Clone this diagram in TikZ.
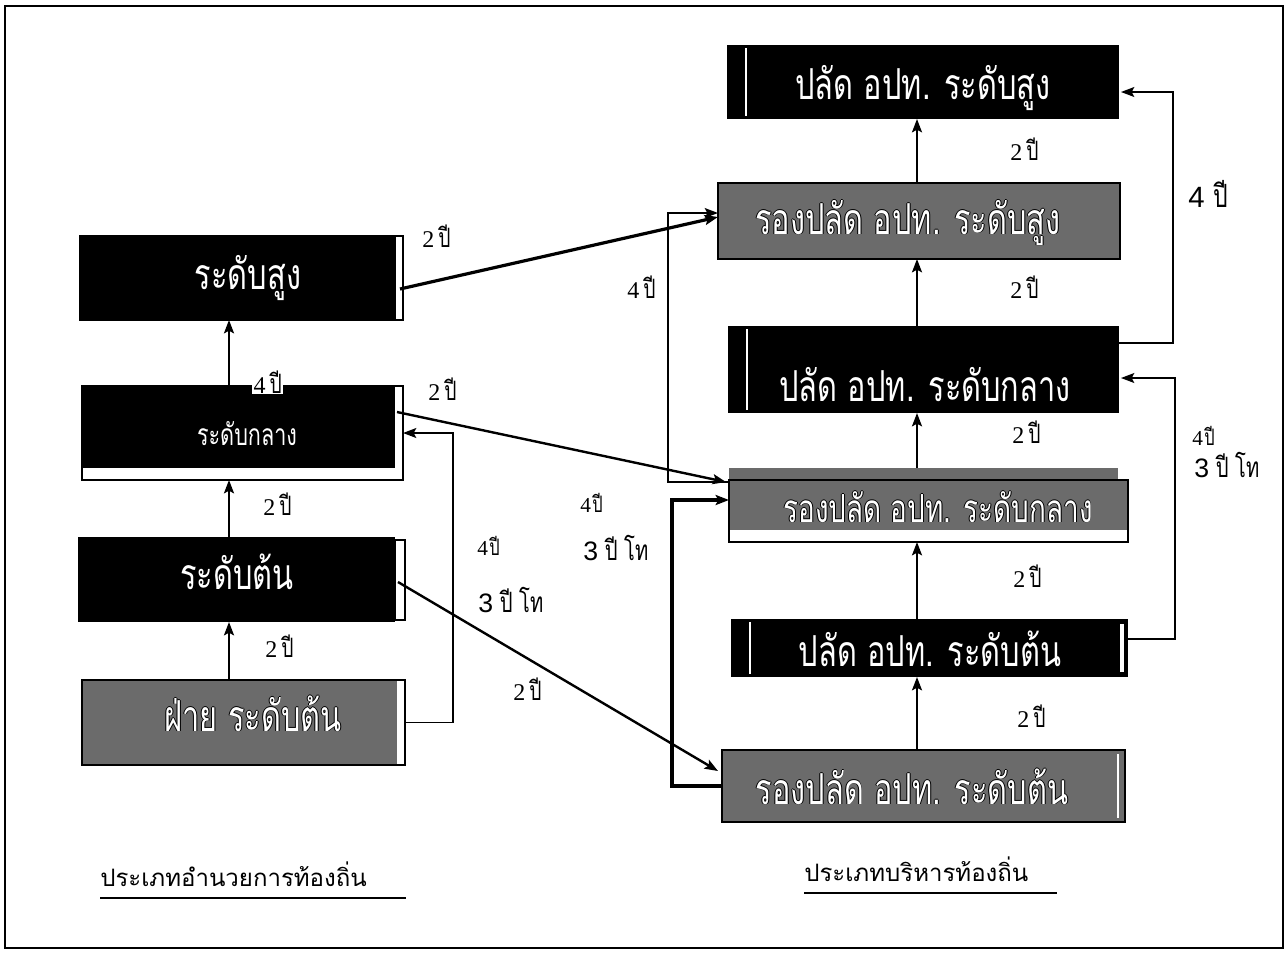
\documentclass[tikz,border=0pt]{standalone}
\usepackage{fontspec}
\usetikzlibrary{arrows.meta,calc}
\newfontfamily\thaiC[Script=Thai,FakeStretch=0.72]{Loma}
\newfontfamily\thaiS[Script=Thai]{Loma}
\newfontfamily\serifd{Liberation Serif}
\newfontfamily\sansd{Liberation Sans}
\newlength\pxu \setlength\pxu{0.75pt}
\newcommand\bigT{\thaiC\fontsize{32}{32}\selectfont}
\newcommand\bigTb{\thaiC\fontsize{29}{29}\selectfont}
\newcommand\midT{\thaiC\fontsize{22.5}{22.5}\selectfont}
\newcommand\yrS[1]{{\serifd\fontsize{18}{18}\selectfont #1}\hspace{3pt}{\thaiC\fontsize{20}{20}\selectfont ปี}}
\newcommand\yrM[1]{{\serifd\fontsize{16}{16}\selectfont #1}\hspace{1pt}{\thaiC\fontsize{17}{17}\selectfont ปี}}
\newcommand\yrB[1]{{\sansd\fontsize{22}{22}\selectfont #1}\hspace{7pt}{\thaiC\fontsize{24}{24}\selectfont ปี}}
\newcommand\yrT{{\sansd\fontsize{20}{20}\selectfont 3}\hspace{5pt}{\thaiC\fontsize{21}{21}\selectfont ปี\hspace{5pt}โท}}
\newcommand\otext[1]{\leavevmode
  \rlap{\raisebox{0.7pt}{\color{black}#1}}%
  \rlap{\raisebox{-0.7pt}{\color{black}#1}}%
  \rlap{\hspace{0.7pt}\color{black}#1}%
  \rlap{\hspace{-0.7pt}\color{black}#1}%
  {\color{white}#1}}
\begin{document}
\begin{tikzpicture}[x=0.75pt,y=-0.75pt,
  frame/.style={line width=1.5pt},
  blk/.style={fill=black},
  gry/.style={fill=black!58},
  edgeline/.style={draw=black,line width=0.8pt},
  boxn/.style={rectangle,inner sep=0pt,outer sep=0pt},
  wl/.style={draw=white,line width=0.9pt},
  tx/.style={text=white,inner sep=0pt,anchor=base},
  lab/.style={inner sep=0pt,anchor=base west},
  tip/.style={-{Stealth[length=10pt,width=7.5pt,inset=2pt]}},
  vup/.style={tip,line width=1.6pt},
  fb/.style={tip,line width=1pt},
  fbthick/.style={tip,line width=2.6pt},
  diag/.style={tip,line width=1.8pt},
  diagthick/.style={tip,line width=2.4pt},
  uline/.style={line width=1.6pt}]
\useasboundingbox (0,0) rectangle (1286,958);
\fill[white] (0,0) rectangle (1286,958);
\draw[frame] (5,6) rectangle (1283,948);

% ---------- left column ----------
\fill[blk] (80,236) rectangle (396,320);
\draw[edgeline] (80,236) rectangle (403,320);
\node[boxn,minimum width=323\pxu,minimum height=84\pxu] (hs) at (241.5,278) {};
\node[tx,font=\bigT] (ths) at (248,289) {ระดับสูง};

\fill[blk] (82,386) rectangle (395,468);
\draw[edgeline] (82,386) rectangle (403,480);
\node[boxn,minimum width=321\pxu,minimum height=94\pxu] (hm) at (242.5,433) {};
\node[tx,font=\midT] (thm) at (247,445) {ระดับกลาง};

\fill[blk] (78,537) rectangle (395,622);
\draw[edgeline] (395,540) rectangle (405,620);
\node[boxn,minimum width=327\pxu,minimum height=85\pxu] (hl) at (241.5,579.5) {};
\node[tx,font=\bigT] (thl) at (237,589) {ระดับต้น};

\fill[gry] (82,680) rectangle (397,765);
\draw[edgeline] (82,680) rectangle (405,765);
\node[boxn,minimum width=323\pxu,minimum height=85\pxu] (hf) at (243.5,722.5) {};
\node[tx,font=\bigT] (thf) at (253,731) {\otext{ฝ่าย ระดับต้น}};

% ---------- right column ----------
\fill[blk] (727,45) rectangle (1119,119);
\draw[wl] (746,48) -- (746,116);
\node[boxn,minimum width=392\pxu,minimum height=74\pxu] (ps) at (923,82) {};
\node[tx,font=\bigT] (tps) at (923,99) {ปลัด อปท. ระดับสูง};

\fill[gry] (718,183) rectangle (1120,259);
\draw[edgeline] (718,183) rectangle (1120,259);
\node[boxn,minimum width=402\pxu,minimum height=76\pxu] (rs) at (919,221) {};
\node[tx,font=\bigT] (trs) at (908,234) {\otext{รองปลัด อปท. ระดับสูง}};

\fill[blk] (728,326) rectangle (1119,413);
\draw[wl] (747,329) -- (747,410);
\node[boxn,minimum width=391\pxu,minimum height=87\pxu] (pm) at (923.5,369.5) {};
\node[tx,font=\bigT] (tpm) at (925,401) {ปลัด อปท. ระดับกลาง};

\fill[gry] (729,468) rectangle (1118,480);
\fill[gry] (729,480) rectangle (1128,530);
\draw[edgeline] (729,480) rectangle (1128,542);
\node[boxn,minimum width=399\pxu,minimum height=74\pxu] (rm) at (928.5,505) {};
\node[tx,font=\bigTb] (trm) at (938,522) {\otext{รองปลัด อปท. ระดับกลาง}};

\fill[blk] (731,619) rectangle (1128,677);
\draw[wl] (750,622) -- (750,674);
\draw[edgeline,fill=white] (1119,623) rectangle (1125,673);
\node[boxn,minimum width=397\pxu,minimum height=58\pxu] (pl) at (929.5,648) {};
\node[tx,font=\bigT] (tpl) at (930,666) {ปลัด อปท. ระดับต้น};

\fill[gry] (722,750) rectangle (1125,822);
\draw[edgeline] (722,750) rectangle (1125,822);
\draw[wl] (1118,754) -- (1118,818);
\node[boxn,minimum width=403\pxu,minimum height=72\pxu] (rl) at (923.5,786) {};
\node[tx,font=\bigT] (trl) at (912,804) {\otext{รองปลัด อปท. ระดับต้น}};

% ---------- connectors ----------
\coordinate (cR) at (917,0);
\coordinate (cL) at (229,0);
\draw[vup] (rs.north -| cR) -- (ps.south -| cR);
\draw[vup] (pm.north -| cR) -- (rs.south -| cR);
\draw[vup] (rm.north -| cR) -- (pm.south -| cR);
\draw[vup] (pl.north -| cR) -- (rm.south -| cR);
\draw[vup] (rl.north -| cR) -- (pl.south -| cR);
\draw[vup] (hm.north -| cL) -- (hs.south -| cL);
\draw[vup] (hl.north -| cL) -- (hm.south -| cL);
\draw[vup] (hf.north -| cL) -- (hl.south -| cL);

\draw[fb] ($(pm.east)+(0,-26.5)$) -- ++(54,0) |- ($(ps.east)+(2,10)$);
\draw[fb] ($(pl.east)+(0,-9)$) -- ++(47,0) |- ($(pm.east)+(2,8.5)$);
\draw[fb] (hf.east) -- ++(48,0) |- (hm.east);
\draw[fb] ($(rm.west)+(0,-23)$) -- ++(-61,0) |- ($(rs.west)+(0,-8)$);
\draw[fbthick] (rl.west) -- ++(-50,0) |- ($(rm.west)+(0,-5)$);

\draw[diagthick] ($(hs.east)+(-3,11)$) -- ($(rs.west)+(0,-4)$);
\draw[diag] ($(hm.east)+(-6,-21)$) -- ($(rm.west)+(-3,-23)$);
\draw[diag] ($(hl.east)+(-7,2.5)$) -- ($(rl.west)+(-4,-15)$);

% ---------- labels ----------
\node[lab] (l1) at (422,247) {\yrS{2}};
\node[lab,fill=white,inner sep=1pt] (l2) at (252,393) {\yrS{4}};
\node[lab] (l3) at (428,400) {\yrS{2}};
\node[lab] (l4) at (263,515) {\yrS{2}};
\node[lab] (l5) at (265,657) {\yrS{2}};
\node[lab] (l6) at (477,555) {\yrM{4}};
\node[lab] (l7) at (478,612) {\yrT};
\node[lab] (l8) at (513,700) {\yrS{2}};
\node[lab] (l9) at (627,298) {\yrS{4}};
\node[lab] (l10) at (580,512) {\yrM{4}};
\node[lab] (l11) at (583,560) {\yrT};
\node[lab] (r1) at (1010,160) {\yrS{2}};
\node[lab] (r2) at (1010,298) {\yrS{2}};
\node[lab] (r3) at (1012,443) {\yrS{2}};
\node[lab] (r4) at (1013,587) {\yrS{2}};
\node[lab] (r5) at (1017,727) {\yrS{2}};
\node[lab] (r6) at (1188,207) {\yrB{4}};
\node[lab] (r7) at (1192,445) {\yrM{4}};
\node[lab] (r8) at (1194,477) {\yrT};

% ---------- category titles ----------
\node[lab,font=\thaiS\fontsize{18}{18}\selectfont] (catL) at (100,886) {ประเภทอำนวยการท้องถิ่น};
\draw[uline] (catL.base west |- 0,898) -- (406,898);
\node[lab,font=\thaiS\fontsize{18}{18}\selectfont] (catR) at (804,881) {ประเภทบริหารท้องถิ่น};
\draw[uline] (catR.base west |- 0,893) -- (1057,893);
\end{tikzpicture}
\end{document}
